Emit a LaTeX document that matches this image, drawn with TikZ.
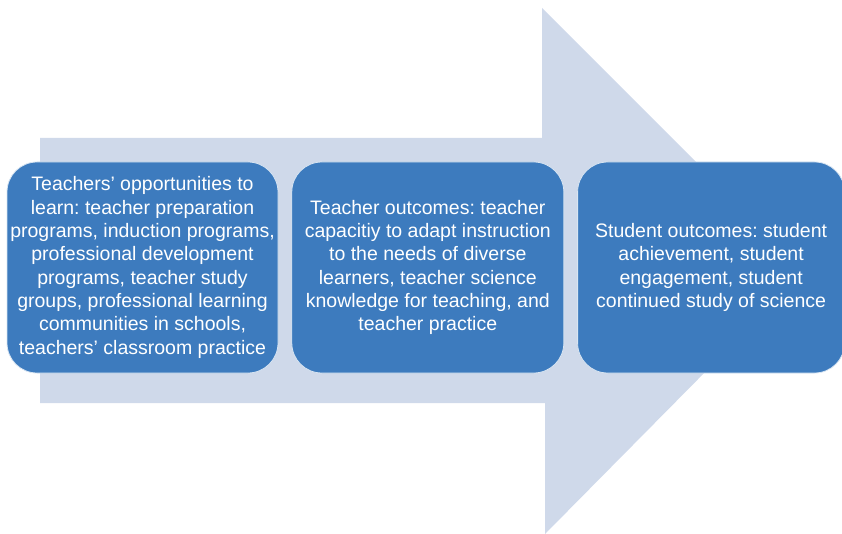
\documentclass[tikz,border=0pt]{standalone}
\usepackage{fontspec}
\setmainfont{Liberation Sans}
\usetikzlibrary{positioning}
\definecolor{arrowfill}{RGB}{207,217,234}
\definecolor{boxfill}{RGB}{61,123,190}

\begin{document}
\frenchspacing
\begin{tikzpicture}[x=1pt,y=-1pt,
  stage/.style={draw=white!80!boxfill, line width=0.8pt, fill=boxfill, rounded corners=30pt,
    text=white, align=center, minimum height=211pt, inner sep=0pt,
    font=\fontsize{19.5}{23.3}\selectfont}]
  \useasboundingbox (0,0) rectangle (842,534);
  % big background arrow
  \fill[arrowfill] (40,138) -- (542,138) -- (542,8) -- (805,271) -- (545,534)
    -- (545,403) -- (40,403) -- cycle;
  % the three stages
  \node[stage, minimum width=271pt] (opps) at (142.5,267.5)
    {Teachers’ opportunities to\\ learn: teacher preparation\\ programs, induction programs,\\
     professional development\\ programs, teacher study\\ groups, professional learning\\
     communities in schools,\\ teachers’ classroom practice};
  \node[stage, minimum width=272pt, right=13pt of opps] (tout)
    {Teacher outcomes: teacher\\ capacitiy to adapt instruction\\ to the needs of diverse\\
     learners, teacher science\\ knowledge for teaching, and\\ teacher practice};
  \node[stage, minimum width=267pt, right=13pt of tout] (sout)
    {Student outcomes: student\\ achievement, student\\ engagement, student\\
     continued study of science};
\end{tikzpicture}
\end{document}
